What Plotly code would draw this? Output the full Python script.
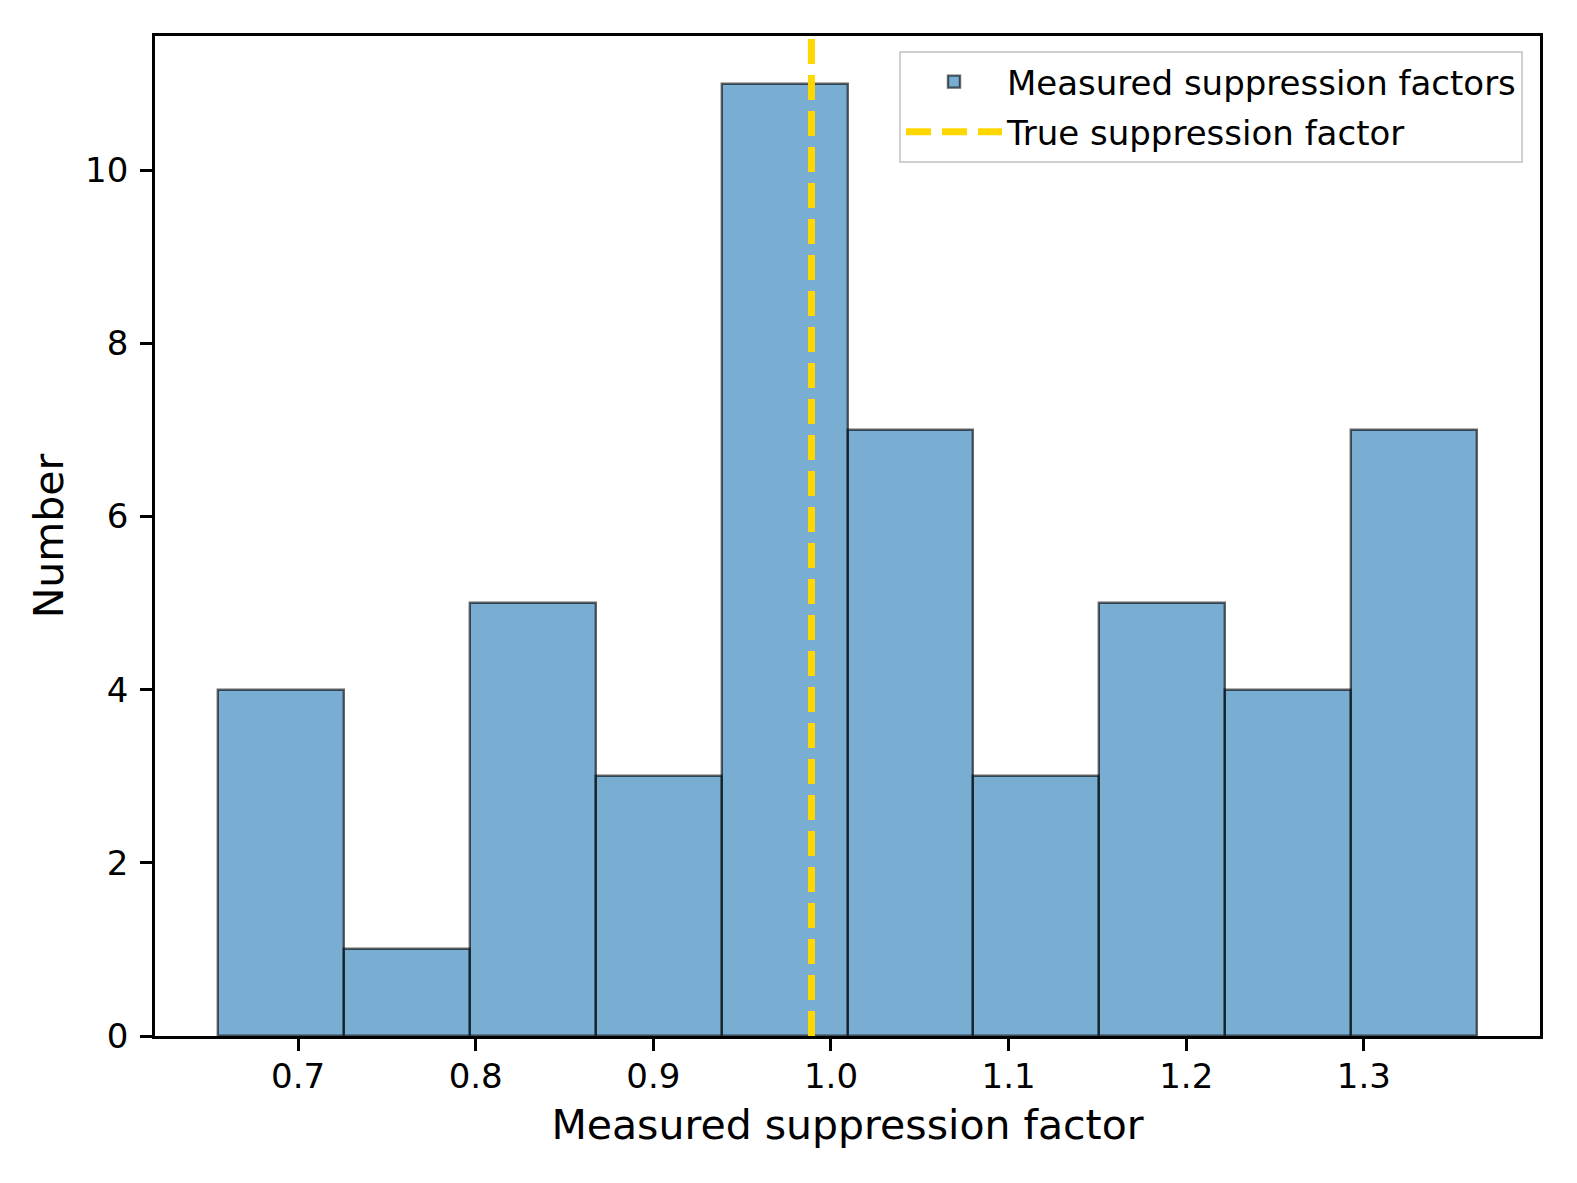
import plotly.graph_objects as go

# Data
bin_edges = [0.6549, 0.7258, 0.7967, 0.8675, 0.9384, 1.0093,
             1.0802, 1.1511, 1.2220, 1.2928, 1.3637]
counts = [4, 1, 5, 3, 11, 7, 3, 5, 4, 7]
true_factor = 0.989
x_tick_vals = [0.7, 0.8, 0.9, 1.0, 1.1, 1.2, 1.3]
x_tick_text = ["0.7", "0.8", "0.9", "1.0", "1.1", "1.2", "1.3"]
y_tick_vals = [0, 2, 4, 6, 8, 10]

centers = [(a + b) / 2 for a, b in zip(bin_edges[:-1], bin_edges[1:])]
widths = [b - a for a, b in zip(bin_edges[:-1], bin_edges[1:])]

span = bin_edges[-1] - bin_edges[0]
x_range = [bin_edges[0] - 0.05 * span, bin_edges[-1] + 0.05 * span]
y_max = max(counts) * 1.05

FONT = "DejaVu Sans"
BAR_FILL = "rgba(31,119,180,0.6)"
BAR_EDGE = "rgba(0,0,0,0.6)"

fig = go.Figure()
fig.add_trace(go.Bar(
    x=centers, y=counts, width=widths,
    name="Measured suppression factors", legendgroup="a",
    marker=dict(color=BAR_FILL, line=dict(color=BAR_EDGE, width=2.4)),
))
fig.add_trace(go.Scatter(
    x=[true_factor, true_factor], y=[0, y_max],
    mode="lines", name="True suppression factor", legendgroup="b",
    line=dict(color="#FFD700", width=7, dash="25px,11px"),
))

fig.update_layout(
    width=1561, height=1167,
    margin=dict(l=147, r=29, t=28, b=139, pad=0),
    paper_bgcolor="white", plot_bgcolor="white",
    font=dict(family=FONT, size=34, color="black"),
    showlegend=True,
    legend=dict(
        x=1 - 17 / 1385, y=1 - 15 / 1000, xanchor="right", yanchor="top",
        bgcolor="rgba(255,255,255,0.8)", bordercolor="#d0d0d0", borderwidth=2,
        font=dict(family=FONT, size=34, color="black"),
        itemwidth=96, traceorder="grouped", tracegroupgap=3,
    ),
    bargap=0,
)

fig.update_xaxes(
    range=x_range, tickmode="array", tickvals=x_tick_vals, ticktext=x_tick_text,
    ticks="outside", ticklen=12, tickwidth=2.7, tickcolor="black",
    ticklabelstandoff=-4,
    showline=True, linecolor="black", linewidth=2.7, mirror=True,
    showgrid=False, zeroline=False,
    title=dict(text="Measured suppression factor", font=dict(size=41), standoff=16),
)
fig.update_yaxes(
    range=[0, y_max], tickmode="array", tickvals=y_tick_vals,
    ticks="outside", ticklen=12, tickwidth=2.7, tickcolor="black",
    ticklabelstandoff=5,
    showline=True, linecolor="black", linewidth=2.7, mirror=True,
    showgrid=False, zeroline=False,
    title=dict(text="Number", font=dict(size=41), standoff=9),
)

fig.write_html("out.html")
